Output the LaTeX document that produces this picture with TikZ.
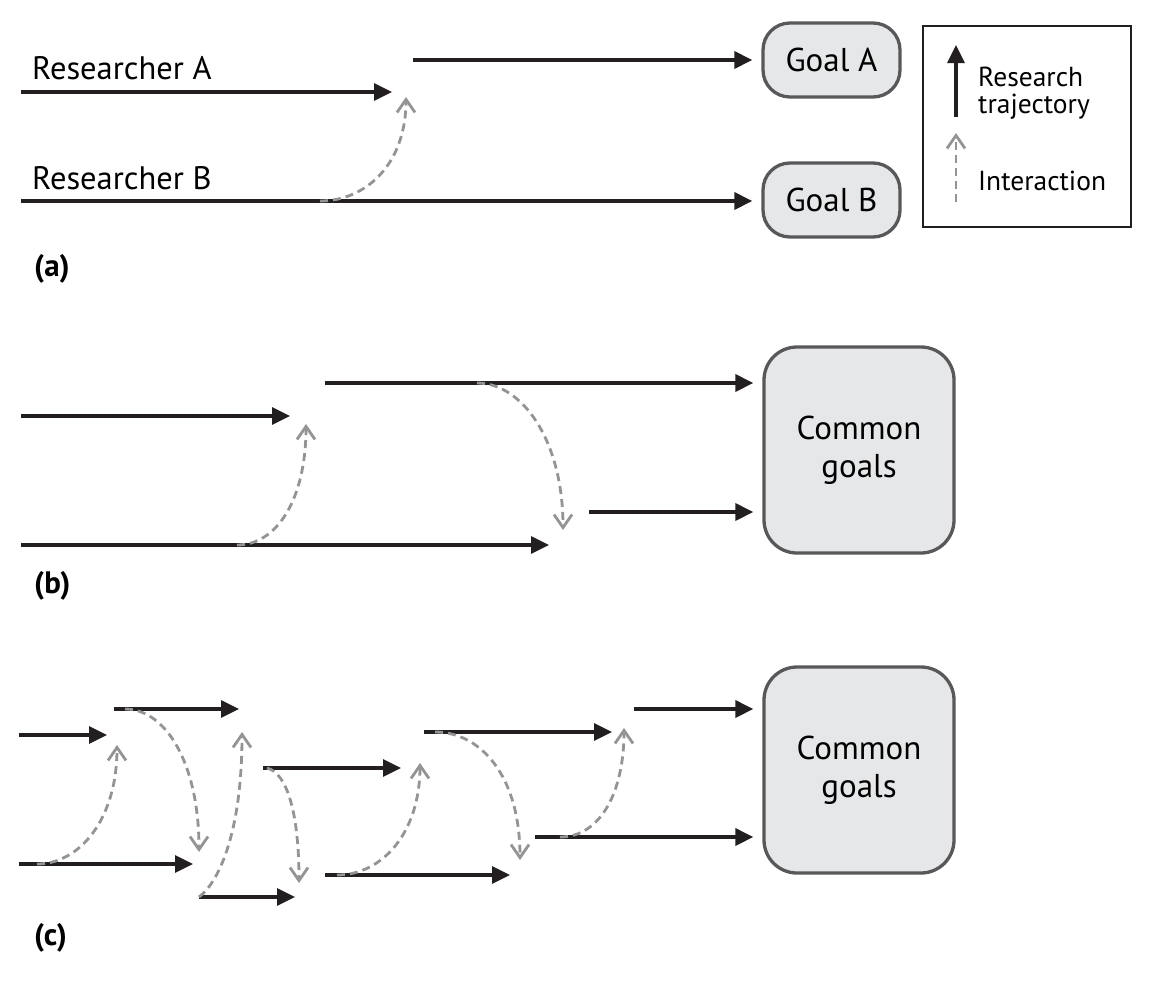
\documentclass[tikz,border=0pt]{standalone}
\usepackage{fontspec}
\setmainfont{PT Sans}
\usetikzlibrary{arrows.meta}
\definecolor{ink}{HTML}{231F20}
\definecolor{dgrey}{HTML}{58585A}
\definecolor{ltgrey}{HTML}{E6E7E8}
\definecolor{igrey}{HTML}{949496}
\begin{document}
\begin{tikzpicture}[x=1pt,y=-1pt,
  traj/.style={draw=ink, line width=3.3pt, -{Triangle[length=18pt,width=17pt]}},
  inter/.style={draw=igrey, line width=2.8pt, dash pattern=on 8pt off 5pt, -{Straight Barb[length=13pt,width=18pt]}},
  goalbox/.style={draw=dgrey, fill=ltgrey, line width=3.3pt, inner sep=0pt, align=center},
  lbl/.style={inner sep=0pt, anchor=base west, font=\fontsize{32.5}{36}\selectfont},
  leg/.style={inner sep=0pt, anchor=base west, font=\fontsize{27.5}{30}\selectfont},
  panel/.style={inner sep=0pt, anchor=base west, font=\fontsize{31}{34}\selectfont\bfseries}
]
\useasboundingbox (0,0) rectangle (1158,982);

% ---------------- (a) ----------------
\node[goalbox, rounded corners=27pt, minimum width=137pt, minimum height=74pt,
      font=\fontsize{33}{36}\selectfont] (goalA) at (831.5,60) {Goal A};
\node[goalbox, rounded corners=27pt, minimum width=137pt, minimum height=74pt,
      font=\fontsize{33}{36}\selectfont] (goalB) at (831.5,200) {Goal B};
\node[lbl] (resA) at (32,79) {Researcher A};
\node[lbl] (resB) at (32,189) {Researcher B};
\node[panel] (pa) at (34,276) {(a)};

\coordinate (a1s) at (21,92);   \coordinate (a1e) at (392,92);
\coordinate (a2s) at (413,60);
\coordinate (b1s) at (21,201);
\coordinate (ai1s) at (320,201); \coordinate (ai1e) at (406,97);

\draw[traj] (a1s) -- (a1e);
\draw[traj, shorten >=9pt] (a2s) -- (a2s -| goalA.west);
\draw[traj, shorten >=9pt] (b1s) -- (b1s -| goalB.west);
\draw[inter] (ai1s) .. controls +(45,0) and +(0,68) .. (ai1e);

% legend
\node[draw=ink, line width=1.6pt, minimum width=208pt, minimum height=201pt, inner sep=0pt] (legend) at (1027,126.5) {};
\coordinate (l1s) at (956,117); \coordinate (l1e) at (956,45);
\coordinate (l2s) at (956,202); \coordinate (l2e) at (956,133);
\draw[traj] (l1s) -- (l1e);
\draw[inter] (l2s) -- (l2e);
\node[leg] (legR) at (978,86) {Research};
\node[leg] (legT) at (978,113) {trajectory};
\node[leg] (legI) at (978,190) {Interaction};

% ---------------- (b) ----------------
\node[goalbox, rounded corners=33pt, minimum width=190pt, minimum height=206pt,
      font=\fontsize{33}{38}\selectfont] (cgb) at (859,450) {Common\\goals};
\node[panel] (pb) at (34,593) {(b)};

\coordinate (bA1s) at (21,416);  \coordinate (bA1e) at (290,416);
\coordinate (bA2s) at (325,383);
\coordinate (bB1s) at (21,545);  \coordinate (bB1e) at (549,545);
\coordinate (bB2s) at (589,512);
\coordinate (bi1s) at (237,545); \coordinate (bi1e) at (306,424);
\coordinate (bi2s) at (477,383); \coordinate (bi2e) at (563,530);

\draw[traj] (bA1s) -- (bA1e);
\draw[traj, shorten >=9pt] (bA2s) -- (bA2s -| cgb.west);
\draw[traj] (bB1s) -- (bB1e);
\draw[traj, shorten >=9pt] (bB2s) -- (bB2s -| cgb.west);
\draw[inter] (bi1s) .. controls +(40,0) and +(0,75) .. (bi1e);
\draw[inter] (bi2s) .. controls +(45,0) and +(0,-90) .. (bi2e);

% ---------------- (c) ----------------
\node[goalbox, rounded corners=33pt, minimum width=190pt, minimum height=206pt,
      font=\fontsize{33}{38}\selectfont] (cgc) at (859,770) {Common\\goals};
\node[panel] (pc) at (34,945) {(c)};

\coordinate (cA1s) at (19,735);  \coordinate (cA1e) at (107,735);
\coordinate (cA2s) at (114,709); \coordinate (cA2e) at (239,709);
\coordinate (cA3s) at (263,768); \coordinate (cA3e) at (401,768);
\coordinate (cA4s) at (424,732); \coordinate (cA4e) at (612,732);
\coordinate (cA5s) at (634,709);
\coordinate (cB1s) at (19,864);  \coordinate (cB1e) at (193,864);
\coordinate (cB2s) at (199,897); \coordinate (cB2e) at (295,897);
\coordinate (cB3s) at (325,875); \coordinate (cB3e) at (510,875);
\coordinate (cB4s) at (535,837);

\draw[traj] (cA1s) -- (cA1e);
\draw[traj] (cA2s) -- (cA2e);
\draw[traj] (cA3s) -- (cA3e);
\draw[traj] (cA4s) -- (cA4e);
\draw[traj, shorten >=9pt] (cA5s) -- (cA5s -| cgc.west);
\draw[traj] (cB1s) -- (cB1e);
\draw[traj] (cB2s) -- (cB2e);
\draw[traj] (cB3s) -- (cB3e);
\draw[traj, shorten >=9pt] (cB4s) -- (cB4s -| cgc.west);

\coordinate (ci1s) at (37,864);  \coordinate (ci1e) at (117,745);
\coordinate (ci2s) at (125,709); \coordinate (ci2e) at (199,852);
\coordinate (ci3s) at (199,897); \coordinate (ci3e) at (242,732);
\coordinate (ci4s) at (267,768); \coordinate (ci4e) at (299,883);
\coordinate (ci5s) at (337,875); \coordinate (ci5e) at (420,763);
\coordinate (ci6s) at (435,732); \coordinate (ci6e) at (520,860);
\coordinate (ci7s) at (560,837); \coordinate (ci7e) at (624,728);

\draw[inter] (ci1s) .. controls +(42,0) and +(0,75) .. (ci1e);
\draw[inter] (ci2s) .. controls +(40,0) and +(0,-90) .. (ci2e);
\draw[inter] (ci3s) .. controls +(20,-15) and +(0,100) .. (ci3e);
\draw[inter] (ci4s) .. controls +(20,5) and +(0,-70) .. (ci4e);
\draw[inter] (ci5s) .. controls +(45,0) and +(0,70) .. (ci5e);
\draw[inter] (ci6s) .. controls +(45,0) and +(0,-85) .. (ci6e);
\draw[inter] (ci7s) .. controls +(40,0) and +(0,65) .. (ci7e);
\end{tikzpicture}
\end{document}
